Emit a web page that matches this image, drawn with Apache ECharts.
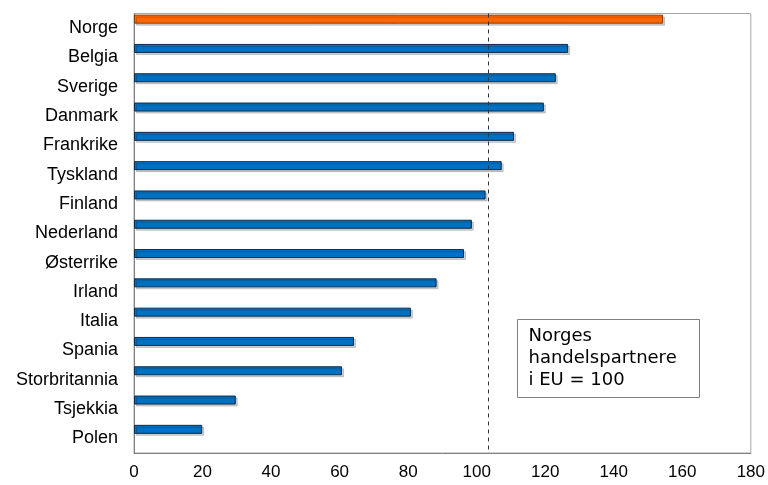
<!DOCTYPE html>
<html>
<head>
<meta charset="utf-8">
<script src="https://cdn.jsdelivr.net/npm/echarts@6/dist/echarts.min.js"></script>
<style>
  html, body { margin: 0; padding: 0; background: #fff; }
  #chart { width: 768px; height: 485px; }
</style>
</head>
<body>
<div id="chart"></div>
<script>
// land, fra toppen
const countries = ['Norge', 'Belgia', 'Sverige', 'Danmark', 'Frankrike', 'Tyskland', 'Finland',
  'Nederland', 'Østerrike', 'Irland', 'Italia', 'Spania', 'Storbritannia', 'Tsjekkia', 'Polen']
const values = [154.4, 126.7, 123.1, 119.6, 110.9, 107.3, 102.6, 98.6, 96.3, 88.3, 80.8, 64.2, 60.7, 29.7, 19.9]
const highlight = 'Norge'
const refLine = 103.4
const boxLines = ['Norges', 'handelspartnere', 'i EU = 100']

const chart = echarts.init(document.getElementById('chart'))

chart.setOption({
  animation: false,
  grid: {
    left: 134, right: 17, top: 13.5, bottom: 32,
    show: true, borderColor: '#a6a6a6', borderWidth: 1
  },
  xAxis: {
    type: 'value',
    min: 0, max: 180, interval: 20,
    axisLine: { show: true, lineStyle: { color: '#808080' } },
    axisTick: { show: false },
    splitLine: { show: false },
    axisLabel: { color: '#000', fontFamily: 'Liberation Sans', fontSize: 17, margin: 11 }
  },
  yAxis: {
    type: 'category',
    inverse: true,
    data: countries,
    axisLine: { lineStyle: { color: '#808080' } },
    axisTick: { length: 4, lineStyle: { color: '#808080' } },
    axisLabel: { color: '#000', fontFamily: 'Liberation Sans', fontSize: 18, margin: 16 }
  },
  series: [
    {
      type: 'bar',
      barWidth: 9,
      barGap: '100%',
      data: values.map((v, i) => ({
        value: v,
        itemStyle: {
          color: countries[i] === highlight ? '#ff6600' : '#0070c0',
          borderColor: countries[i] === highlight ? '#8a3a00' : '#0d2a4a'
        }
      })),
      itemStyle: {
        borderWidth: 1,
        shadowColor: 'rgba(0,0,0,0.18)',
        shadowOffsetX: 2,
        shadowOffsetY: 2,
        shadowBlur: 0
      },
      markLine: {
        silent: true,
        symbol: 'none',
        label: { show: false },
        lineStyle: { color: '#333', type: [4, 4], width: 1 },
        data: [{ xAxis: refLine }]
      }
    },
    {
      // tom serie, bare for å skyve søylene opp i kategorien
      type: 'bar',
      barWidth: 9,
      data: countries.map(() => null)
    }
  ],
  graphic: [
    {
      type: 'group',
      left: 517, top: 319,
      children: [
        {
          type: 'rect',
          shape: { x: 0, y: 0, width: 182, height: 78 },
          style: { fill: '#fff', stroke: '#808080', lineWidth: 1 }
        },
        {
          type: 'text',
          x: 11, y: 6,
          style: {
            text: boxLines.join('\n'),
            font: '18px "DejaVu Sans"',
            lineHeight: 22,
            fill: '#000'
          }
        }
      ]
    }
  ]
})
</script>
</body>
</html>
